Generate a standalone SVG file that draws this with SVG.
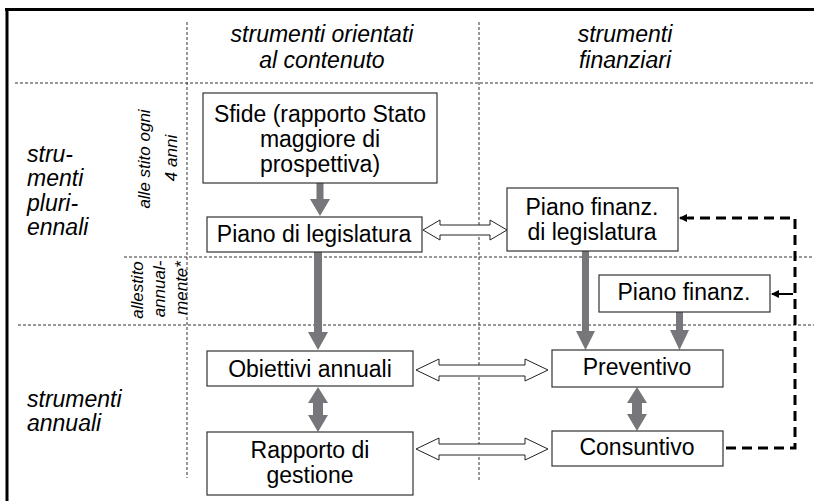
<svg xmlns="http://www.w3.org/2000/svg" width="814" height="501" viewBox="0 0 814 501">
<style>
text{font-family:"Liberation Sans",Arial,sans-serif;fill:#000}
.t{font-size:23px;text-anchor:middle}
.h{font-size:23px;font-style:italic;text-anchor:middle}
.l{font-size:23px;font-style:italic}
.r{font-size:17px;font-style:italic;text-anchor:middle}
.box{fill:#fff;stroke:#333;stroke-width:1.2}
.grid{stroke:#333;stroke-width:1;stroke-dasharray:3 2;fill:none}
.g{fill:#77777b}
.open{fill:#fff;stroke:#222;stroke-width:1}
.fb{stroke:#000;stroke-width:3;stroke-dasharray:10 6;fill:none}
</style>
<defs>
<marker id="ah" markerWidth="8" markerHeight="8" refX="7" refY="4" orient="auto" markerUnits="userSpaceOnUse">
<path d="M0,0 L8,4 L0,8 Z" fill="#000"/>
</marker>
</defs>
<rect width="814" height="501" fill="#fff"/>
<g id="frame">
<line x1="5" y1="9.5" x2="814" y2="9.5" stroke="#000" stroke-width="3"/>
<line x1="7" y1="8" x2="7" y2="501" stroke="#000" stroke-width="3"/>
</g>
<g id="grid">
<line class="grid" x1="187" y1="22" x2="187" y2="478"/>
<line class="grid" x1="479" y1="22" x2="479" y2="480"/>
<line class="grid" x1="15" y1="83" x2="814" y2="83"/>
<line class="grid" x1="124" y1="257" x2="814" y2="257"/>
<line class="grid" x1="18" y1="325" x2="814" y2="325"/>
</g>
<g id="headers">
<text class="h" x="322" y="42">strumenti orientati</text>
<text class="h" x="322" y="68">al contenuto</text>
<text class="h" x="625" y="42">strumenti</text>
<text class="h" x="625" y="68">finanziari</text>
<text class="l" x="27" y="162">stru-</text>
<text class="l" x="27" y="186">menti</text>
<text class="l" x="27" y="211">pluri-</text>
<text class="l" x="27" y="235">ennali</text>
<text class="l" x="27" y="407">strumenti</text>
<text class="l" x="27" y="431">annuali</text>
<text class="r" transform="translate(150,159) rotate(-90)">alle stito ogni</text>
<text class="r" transform="translate(177,158) rotate(-90)">4 anni</text>
<text class="r" transform="translate(143,290) rotate(-90)">allestito</text>
<text class="r" transform="translate(165,289) rotate(-90)">annual-</text>
<text class="r" transform="translate(187,288) rotate(-90)">mente*</text>
</g>
<g id="connectors">
<path class="g" d="M316.5,183 H323.5 V199 H330 L320,216 L310,199 H316.5 Z"/>
<path class="g" d="M314,252 H322 V332 H328 L318,350 L308,332 H314 Z"/>
<path class="g" d="M582,251 H589 V331 H595 L585.5,350 L576,331 H582 Z"/>
<path class="g" d="M676,312 H683 V330 H689 L679.5,350 L670,330 H676 Z"/>
<path class="g" d="M318,387 L328,403 H323 V415 H328 L318,432 L308,415 H313 V403 H308 Z"/>
<path class="g" d="M637,387 L647,403 H642 V414 H647 L637,431 L627,414 H632 V403 H627 Z"/>
<path class="open" d="M423,230 L440,220 L440,225 L490,225 L490,220 L507,230 L490,240 L490,235 L440,235 L440,240 Z"/>
<path class="open" d="M416,370 L439,359 L439,365 L525,365 L525,359 L548,370 L525,381 L525,376 L439,376 L439,381 Z"/>
<path class="open" d="M416,449 L439,438 L439,444 L525,444 L525,438 L548,449 L525,460 L525,455 L439,455 L439,460 Z"/>
<path class="fb" d="M726,448 H795 V218 H688"/>
<path d="M688,218 L680,218" stroke="#000" stroke-width="2.5" marker-end="url(#ah)"/>
<path d="M793,294 L772,294" stroke="#000" stroke-width="2" marker-end="url(#ah)"/>
</g>
<g id="sfide">
<rect class="box" x="203" y="93" width="234" height="90"/>
<text class="t" x="320" y="122">Sfide (rapporto Stato</text>
<text class="t" x="320" y="147">maggiore di</text>
<text class="t" x="320" y="172">prospettiva)</text>
</g>
<g id="piano-legislatura">
<rect class="box" x="207" y="217" width="215" height="35"/>
<text class="t" x="314" y="242">Piano di legislatura</text>
</g>
<g id="piano-finanz-legislatura">
<rect class="box" x="507" y="188" width="171" height="63"/>
<text class="t" x="592" y="215">Piano finanz.</text>
<text class="t" x="592" y="240">di legislatura</text>
</g>
<g id="piano-finanz">
<rect class="box" x="599" y="275" width="171" height="37"/>
<text class="t" x="684" y="300">Piano finanz.</text>
</g>
<g id="obiettivi">
<rect class="box" x="207" y="351" width="206" height="35"/>
<text class="t" x="310" y="377">Obiettivi annuali</text>
</g>
<g id="preventivo">
<rect class="box" x="552" y="350" width="171" height="37"/>
<text class="t" x="637" y="375">Preventivo</text>
</g>
<g id="rapporto">
<rect class="box" x="207" y="432" width="206" height="63"/>
<text class="t" x="310" y="458">Rapporto di</text>
<text class="t" x="310" y="483">gestione</text>
</g>
<g id="consuntivo">
<rect class="box" x="552" y="431" width="171" height="35"/>
<text class="t" x="637" y="455">Consuntivo</text>
</g>
</svg>
